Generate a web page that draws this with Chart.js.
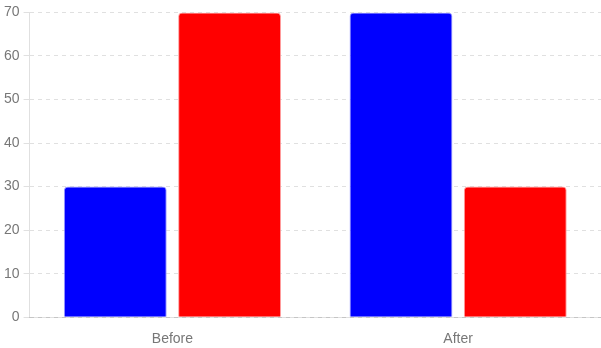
<!DOCTYPE html>
<html>
<head>
<meta charset="utf-8">
<script src="https://cdn.jsdelivr.net/npm/chart.js@4/dist/chart.umd.min.js"></script>
<style>
  html, body { margin: 0; padding: 0; background: #fff; overflow: hidden; }
  #wrap { width: 601px; height: 354px; }
</style>
</head>
<body>
<div id="wrap"><canvas id="chart"></canvas></div>
<script>
const categories = ["Before", "After"];
const blueValues = [30, 70];
const redValues = [70, 30];
const yTicks = { min: 0, max: 70, step: 10 };

Chart.defaults.font.family = "'Liberation Sans', Arial, sans-serif";
Chart.defaults.font.size = 14;
Chart.defaults.color = "#777";

new Chart(document.getElementById("chart"), {
  type: "bar",
  data: {
    labels: categories,
    datasets: [
      { label: "A", data: blueValues, backgroundColor: "#0000ff", borderColor: "rgba(130,130,255,0.8)", borderWidth: 1, borderRadius: 4, borderSkipped: "bottom" },
      { label: "B", data: redValues, backgroundColor: "#ff0000", borderColor: "rgba(255,130,130,0.8)", borderWidth: 1, borderRadius: 4, borderSkipped: "bottom" }
    ]
  },
  options: {
    responsive: true,
    maintainAspectRatio: false,
    animation: false,
    layout: { padding: { top: 5, right: 0, bottom: 0, left: 0 } },
    plugins: { legend: { display: false }, tooltip: { enabled: false } },
    scales: {
      x: {
        grid: { display: false },
        border: { color: "rgba(0,0,0,0.12)", dash: [2, 1] },
        ticks: { padding: 6 }
      },
      y: {
        min: yTicks.min, max: yTicks.max,
        ticks: { stepSize: yTicks.step, padding: 4 },
        grid: { color: "rgba(0,0,0,0.12)", tickLength: 6 },
        border: { color: "rgba(0,0,0,0.12)", dash: [4, 4] }
      }
    }
  }
});
</script>
</body>
</html>
